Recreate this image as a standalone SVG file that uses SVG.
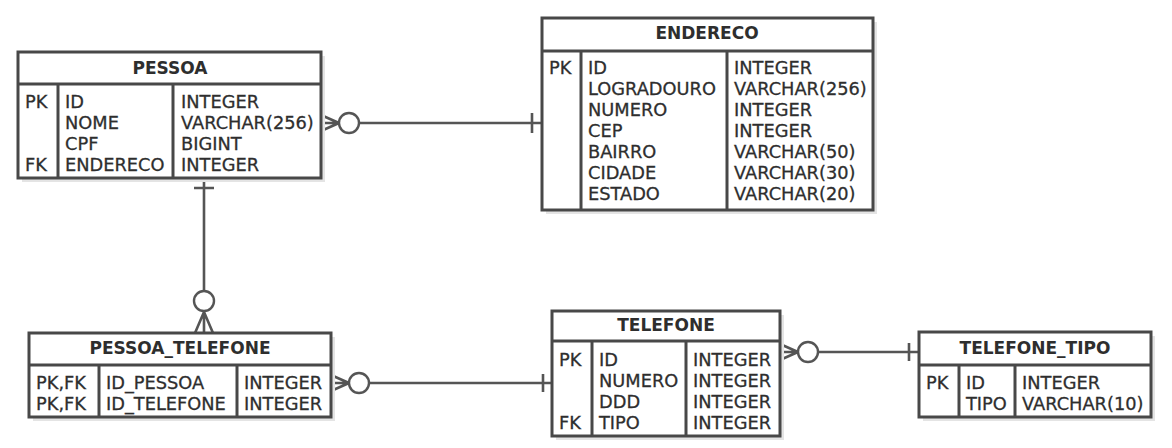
<svg xmlns="http://www.w3.org/2000/svg" width="1172" height="448" viewBox="0 0 1172 448">
<style>
.sh{fill:#e4e4e4;stroke:none}
.box{fill:#fff;stroke:#484848;stroke-width:3}
.ln{stroke:#484848;stroke-width:3;fill:none}
.cn{stroke:#555;stroke-width:2.6;fill:none}
.ci{stroke:#555;stroke-width:2.4;fill:#fff}
.t{font-family:"DejaVu Sans",Verdana,sans-serif;font-size:17.8px;fill:#2e2e2e;stroke:#2e2e2e;stroke-width:0.3}
.h{font-family:"DejaVu Sans",Verdana,sans-serif;font-size:17px;font-weight:bold;fill:#2e2e2e;text-anchor:middle}
</style>
<rect width="1172" height="448" fill="#fff"/>
<g id="connectors">
  <path class="cn" d="M321,115 L339,123 M321,123 L339,123 M321,131 L339,123 M359,123 L542,123 M532,113 L532,133"/>
  <circle class="ci" cx="349" cy="123" r="10"/>
  <path class="cn" d="M204,178 L204,291 M194,188 L214,188 M195,333 L204,312 M204,333 L204,312 M213,333 L204,312"/>
  <circle class="ci" cx="204" cy="301" r="10"/>
  <path class="cn" d="M331,375 L349,383 M331,383 L349,383 M331,391 L349,383 M369,383 L552,383 M543,374 L543,392"/>
  <circle class="ci" cx="359" cy="383" r="10"/>
  <path class="cn" d="M780,344 L798,352 M780,352 L798,352 M780,360 L798,352 M818,352 L919,352 M909,343 L909,361"/>
  <circle class="ci" cx="808" cy="352" r="10"/>
</g>
<g id="PESSOA">
  <rect class="sh" x="22" y="56" width="303" height="126"/>
  <rect class="box" x="18" y="52" width="303" height="126"/>
  <path class="ln" d="M18,84 L321,84 M58,84 L58,178 M173,84 L173,178"/>
  <text class="h" x="170" y="74">PESSOA</text>
  <text class="t" x="25" y="108">PK</text>
  <text class="t" x="25" y="171">FK</text>
  <text class="t" x="65" y="108">ID</text>
  <text class="t" x="65" y="129">NOME</text>
  <text class="t" x="65" y="150">CPF</text>
  <text class="t" x="65" y="171">ENDERECO</text>
  <text class="t" x="181" y="108">INTEGER</text>
  <text class="t" x="181" y="129">VARCHAR(256)</text>
  <text class="t" x="181" y="150">BIGINT</text>
  <text class="t" x="181" y="171">INTEGER</text>
</g>
<g id="ENDERECO">
  <rect class="sh" x="546" y="22" width="331" height="192"/>
  <rect class="box" x="542" y="18" width="331" height="192"/>
  <path class="ln" d="M542,51 L873,51 M581,51 L581,210 M727,51 L727,210"/>
  <text class="h" x="707" y="39">ENDERECO</text>
  <text class="t" x="549" y="74">PK</text>
  <text class="t" x="588" y="74">ID</text>
  <text class="t" x="588" y="95">LOGRADOURO</text>
  <text class="t" x="588" y="116">NUMERO</text>
  <text class="t" x="588" y="137">CEP</text>
  <text class="t" x="588" y="158">BAIRRO</text>
  <text class="t" x="588" y="179">CIDADE</text>
  <text class="t" x="588" y="200">ESTADO</text>
  <text class="t" x="734" y="74">INTEGER</text>
  <text class="t" x="734" y="95">VARCHAR(256)</text>
  <text class="t" x="734" y="116">INTEGER</text>
  <text class="t" x="734" y="137">INTEGER</text>
  <text class="t" x="734" y="158">VARCHAR(50)</text>
  <text class="t" x="734" y="179">VARCHAR(30)</text>
  <text class="t" x="734" y="200">VARCHAR(20)</text>
</g>
<g id="PESSOA_TELEFONE">
  <rect class="sh" x="33" y="337" width="302" height="84"/>
  <rect class="box" x="29" y="333" width="302" height="84"/>
  <path class="ln" d="M29,365 L331,365 M99,365 L99,417 M237,365 L237,417"/>
  <text class="h" x="180" y="354">PESSOA_TELEFONE</text>
  <text class="t" x="36" y="389">PK,FK</text>
  <text class="t" x="36" y="410">PK,FK</text>
  <text class="t" x="106" y="389">ID_PESSOA</text>
  <text class="t" x="106" y="410">ID_TELEFONE</text>
  <text class="t" x="244" y="389">INTEGER</text>
  <text class="t" x="244" y="410">INTEGER</text>
</g>
<g id="TELEFONE">
  <rect class="sh" x="556" y="315" width="228" height="125"/>
  <rect class="box" x="552" y="311" width="228" height="125"/>
  <path class="ln" d="M552,341 L780,341 M592,341 L592,436 M686,341 L686,436"/>
  <text class="h" x="666" y="331">TELEFONE</text>
  <text class="t" x="559" y="366">PK</text>
  <text class="t" x="559" y="429">FK</text>
  <text class="t" x="599" y="366">ID</text>
  <text class="t" x="599" y="387">NUMERO</text>
  <text class="t" x="599" y="408">DDD</text>
  <text class="t" x="599" y="429">TIPO</text>
  <text class="t" x="693" y="366">INTEGER</text>
  <text class="t" x="693" y="387">INTEGER</text>
  <text class="t" x="693" y="408">INTEGER</text>
  <text class="t" x="693" y="429">INTEGER</text>
</g>
<g id="TELEFONE_TIPO">
  <rect class="sh" x="923" y="336" width="232" height="85"/>
  <rect class="box" x="919" y="332" width="232" height="85"/>
  <path class="ln" d="M919,365 L1151,365 M959,365 L959,417 M1015,365 L1015,417"/>
  <text class="h" x="1035" y="354">TELEFONE_TIPO</text>
  <text class="t" x="926" y="389">PK</text>
  <text class="t" x="966" y="389">ID</text>
  <text class="t" x="966" y="410">TIPO</text>
  <text class="t" x="1022" y="389">INTEGER</text>
  <text class="t" x="1022" y="410">VARCHAR(10)</text>
</g>
</svg>
